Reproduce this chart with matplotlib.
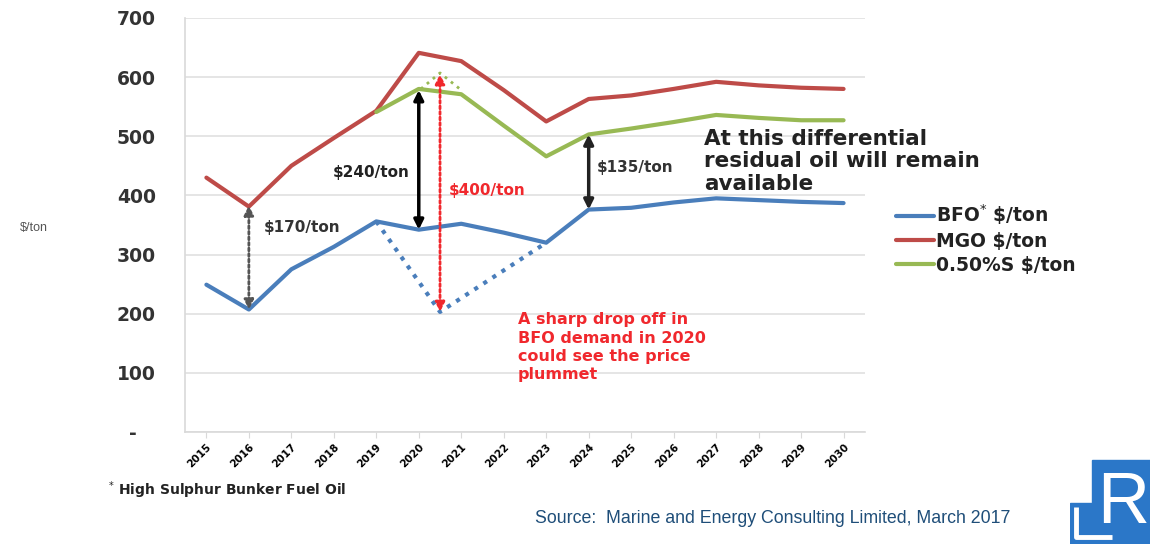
import matplotlib.pyplot as plt
from matplotlib.patches import Polygon
from matplotlib.ticker import FuncFormatter
import numpy as np

# Price outlook, $/ton
years = [str(y) for y in range(2015, 2031)]
bfo = [249, 207, 275, 313, 356, 342, 352, 337, 320, 376, 379, 388, 395, 392, 389, 387]
mgo = [430, 381, 450, 497, 543, 641, 627, 578, 525, 563, 569, 580, 592, 586, 582, 580]
lsfo = [None, None, None, None, 541, 580, 571, 518, 466, 503, 513, 524, 536, 531, 527, 527]

# BFO demand-collapse scenario (category positions, $/ton)
drop_x = [4, 5.5, 8]
drop_y = [356, 203, 320]
# 0.50%S scenario bump
bump_x = [5.05, 5.5, 6.0]
bump_y = [580, 607, 578]

yticks = [0, 100, 200, 300, 400, 500, 600, 700]

BLUE = "#4A7EBB"
RED = "#BE4B48"
GREEN = "#98B954"
ALERT = "#F0282D"
INK = "#222222"
ARIAL = ["Liberation Sans", "DejaVu Sans"]

plt.rcParams["font.family"] = ["DejaVu Sans"]

fig = plt.figure(figsize=(11.5, 5.44), dpi=100)
ax = fig.add_axes([0.161, 0.206, 0.591, 0.761])

x = np.arange(len(years))
lsfo_arr = np.array([np.nan if v is None else v for v in lsfo], dtype=float)

ax.plot(x, bfo, color=BLUE, lw=3, solid_capstyle="round", label="BFO$^{*}$ \\$/ton", zorder=3)
ax.plot(x, mgo, color=RED, lw=3, solid_capstyle="round", label="MGO \\$/ton", zorder=3)
ax.plot(x, lsfo_arr, color=GREEN, lw=3, solid_capstyle="round", label="0.50%S \\$/ton", zorder=3)
ax.plot(drop_x, drop_y, color=BLUE, lw=3, ls=(0, (1, 1.6)), zorder=2)
ax.plot(bump_x, bump_y, color=GREEN, lw=2, ls=(0, (1, 1.8)), zorder=2)

ax.set_xlim(-0.5, 15.5)
ax.set_ylim(0, 700)
ax.set_yticks(yticks)
# accounting-style labels: zero shown as a padded dash
ax.yaxis.set_major_formatter(FuncFormatter(lambda v, p: "-   " if v == 0 else f"{int(v)}"))
ax.set_xticks(x)
ax.set_xticklabels(years, rotation=45, ha="right", rotation_mode="anchor",
                   fontsize=7.5, fontweight="bold")
for lbl in ax.get_yticklabels():
    lbl.set_fontsize(13.5)
    lbl.set_fontweight("bold")
    lbl.set_color("#333333")
ax.tick_params(axis="y", length=0, pad=21)
ax.tick_params(axis="x", length=4, color="#D9D9D9", pad=3)
ax.grid(axis="y", color="#E0E0E0", lw=1.2)
ax.set_axisbelow(True)
for side in ["top", "right"]:
    ax.spines[side].set_visible(False)
for side in ["left", "bottom"]:
    ax.spines[side].set_color("#D9D9D9")
    ax.spines[side].set_linewidth(1.2)

fig.text(0.017, 0.58, "$/ton", fontsize=9, color="#555555", va="center", family=ARIAL)

# Spread arrows
def spread(xp, y0, y1, color, ls, lw=2):
    ax.annotate("", xy=(xp, y1), xytext=(xp, y0),
                arrowprops=dict(arrowstyle="<|-|>", color=color, lw=lw, ls=ls,
                                mutation_scale=14, shrinkA=0, shrinkB=0), zorder=4)

spread(1, 207, 383, "#555555", (0, (1, 1)))
spread(5, 342, 578, "black", "-", 2.5)
spread(9, 376, 503, "#222222", "-", 2.5)
spread(5.5, 203, 605, ALERT, (0, (1, 1)))

ax.text(1.35, 345, "$170/ton", fontsize=11, fontweight="bold", color="#333333", va="center")
ax.text(4.78, 438, "$240/ton", fontsize=11, fontweight="bold", color=INK, va="center", ha="right")
ax.text(5.7, 408, "$400/ton", fontsize=11, fontweight="bold", color=ALERT, va="center")
ax.text(9.18, 447, "$135/ton", fontsize=11, fontweight="bold", color="#333333", va="center")

ax.text(11.72, 512, "At this differential\nresidual oil will remain\navailable",
        fontsize=15.5, fontweight="bold", color=INK, va="top", linespacing=1.14,
        clip_on=False)
ax.text(7.33, 202, "A sharp drop off in\nBFO demand in 2020\ncould see the price\nplummet",
        fontsize=11.5, fontweight="bold", color=ALERT, va="top", linespacing=1.26)

leg = ax.legend(loc="upper left", bbox_to_anchor=(1.035, 0.572), frameon=False,
                fontsize=13.5, handlelength=2.0, handletextpad=0.15, labelspacing=0.25,
                borderaxespad=0)
for t in leg.get_texts():
    t.set_fontweight("bold")
    t.set_color(INK)

fig.text(0.094, 0.098, "$^{*}$ High Sulphur Bunker Fuel Oil", fontsize=10, fontweight="bold",
         color=INK, va="center")
fig.text(0.465, 0.047, "Source:  Marine and Energy Consulting Limited, March 2017",
         fontsize=12.8, color="#1F4E79", va="center", family=ARIAL)

# LR mark
logo = fig.add_axes([0.9304, 0.0, 0.0696, 0.1636])
logo.set_xlim(0, 80)
logo.set_ylim(0, 89)
logo.add_patch(Polygon([(22, 0), (80, 0), (80, 84), (22, 84), (22, 41), (0, 41), (0, 0)],
                       closed=True, color="#2B77C8"))
logo.plot([6, 6, 42], [37, 7, 7], color="white", lw=3.5, solid_capstyle="butt")
logo.text(53, 40, "R", color="white", fontsize=52, ha="center", va="center", family=ARIAL)
logo.set_axis_off()

fig.savefig("out.png", dpi=100, facecolor="white")
